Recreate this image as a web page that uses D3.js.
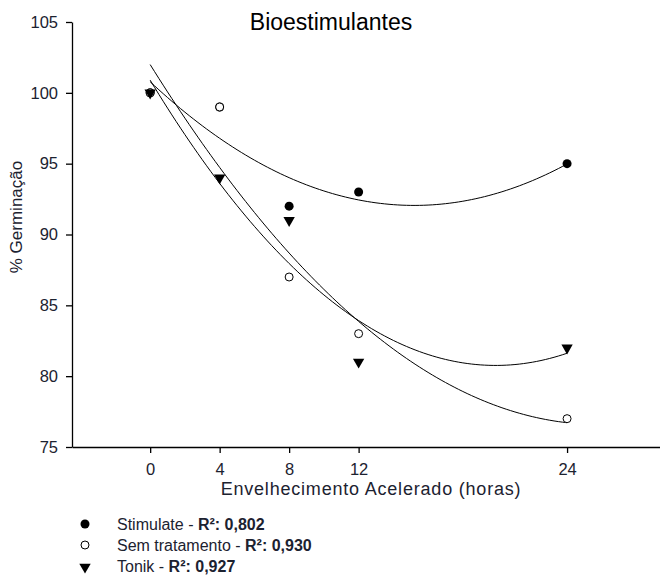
<!DOCTYPE html>
<html>
<head>
<meta charset="utf-8">
<script src="https://cdn.jsdelivr.net/npm/d3@7"></script>
<style>
body { margin: 0; background: #fff; }
text { font-family: "Liberation Sans", Arial, sans-serif; }
</style>
</head>
<body>
<script>
var width = 660;
var height = 575;

// hours of accelerated ageing and % germination
var hours = [0, 4, 8, 12, 24];
var stimulate = [100, 99, 92, 93, 95];
var semTratamento = [100, 99, 87, 83, 77];
var tonik = [100, 94, 91, 81, 82];
var xTicks = [0, 4, 8, 12, 24];
var yTicks = [75, 80, 85, 90, 95, 100, 105];
var legendNames = ["Stimulate - ", "Sem tratamento - ", "Tonik - "];
var legendR2 = ["0,802", "0,930", "0,927"];

var x = d3.scaleLinear().domain([-4.5, 29.35]).range([72, 660]);
var y = d3.scaleLinear().domain([75, 105]).range([447, 22]);

var svg = d3.select("body")
            .append("svg")
            .attr("width", width)
            .attr("height", height);

// quadratic least squares fit, returns [a, b, c] for a + b*x + c*x^2
function quadFit(xs, ys) {
    var s = [0, 0, 0, 0, 0], t = [0, 0, 0];
    for (var i = 0; i < xs.length; i++) {
        for (var k = 0; k < 5; k++) s[k] += Math.pow(xs[i], k);
        for (var k = 0; k < 3; k++) t[k] += ys[i] * Math.pow(xs[i], k);
    }
    var m = [[s[0], s[1], s[2], t[0]], [s[1], s[2], s[3], t[1]], [s[2], s[3], s[4], t[2]]];
    for (var c = 0; c < 3; c++) {
        for (var r = c + 1; r < 3; r++) {
            var f = m[r][c] / m[c][c];
            for (var k = c; k < 4; k++) m[r][k] -= f * m[c][k];
        }
    }
    var sol = [0, 0, 0];
    for (var r = 2; r >= 0; r--) {
        var v = m[r][3];
        for (var k = r + 1; k < 3; k++) v -= m[r][k] * sol[k];
        sol[r] = v / m[r][r];
    }
    return sol;
}

var series = [stimulate, semTratamento, tonik];
var line = d3.line()
    .x(function(d) { return x(d[0]); })
    .y(function(d) { return y(d[1]); });

series.forEach(function(vals) {
    var p = quadFit(hours, vals);
    var pts = d3.range(0, 24.001, 0.25).map(function(h) {
        return [h, p[0] + p[1] * h + p[2] * h * h];
    });
    svg.append("path")
        .attr("d", line(pts))
        .attr("fill", "none")
        .attr("stroke", "#000")
        .attr("stroke-width", 1);
});

// axes
var yAxis = svg.append("g")
    .attr("transform", "translate(72,0)")
    .call(d3.axisLeft(y).tickValues(yTicks).tickSize(6).tickSizeOuter(0));
var xAxis = svg.append("g")
    .attr("transform", "translate(0,447)")
    .call(d3.axisBottom(x).tickValues(xTicks).tickSize(6).tickSizeOuter(0));
[yAxis, xAxis].forEach(function(g) {
    g.selectAll("path").attr("stroke", "#000").attr("stroke-width", 1.3);
    g.selectAll("line").attr("stroke", "#000").attr("stroke-width", 1.3);
    g.selectAll("text")
        .style("font-family", "'Liberation Sans', Arial, sans-serif")
        .style("font-size", "16.5px")
        .attr("fill", "#1c2230");
});
yAxis.selectAll("text").attr("x", -14);
xAxis.selectAll("text").attr("y", 16);

// markers
var tri = d3.symbol().type(d3.symbolTriangle).size(56);
svg.selectAll(".stim")
    .data(hours)
    .enter()
    .append("circle")
    .attr("cx", function(d) { return x(d); })
    .attr("cy", function(d, i) { return y(stimulate[i]); })
    .attr("r", 4.5)
    .attr("fill", "#000");
svg.selectAll(".sem")
    .data(hours)
    .enter()
    .append("circle")
    .attr("cx", function(d) { return x(d); })
    .attr("cy", function(d, i) { return y(semTratamento[i]); })
    .attr("r", 4)
    .attr("fill", "#fff")
    .attr("stroke", "#000")
    .attr("stroke-width", 1);
svg.selectAll(".ton")
    .data(hours)
    .enter()
    .append("path")
    .attr("d", tri)
    .attr("transform", function(d, i) { return "translate(" + x(d) + "," + y(tonik[i]) + ") rotate(180)"; })
    .attr("fill", "#000");

// titles
svg.append("text")
    .attr("x", 331)
    .attr("y", 30)
    .attr("text-anchor", "middle")
    .style("font-size", "23px")
    .attr("fill", "#000")
    .text("Bioestimulantes");
svg.append("text")
    .attr("transform", "translate(22,217) rotate(-90)")
    .attr("text-anchor", "middle")
    .style("font-size", "17px")
    .attr("fill", "#1c2230")
    .text("% Germinação");
svg.append("text")
    .attr("x", 371)
    .attr("y", 495)
    .attr("text-anchor", "middle")
    .style("font-size", "18px")
    .style("letter-spacing", "0.8px")
    .attr("fill", "#1c2230")
    .text("Envelhecimento Acelerado (horas)");

// legend
var legend = svg.selectAll("g.legend")
    .data(legendNames)
    .enter()
    .append("g")
    .attr("class", "legend")
    .attr("transform", function(d, i) { return "translate(0," + (524 + i * 21) + ")"; });
legend.each(function(d, i) {
    var g = d3.select(this);
    if (i == 0) g.append("circle").attr("cx", 85).attr("r", 4.5).attr("fill", "#000");
    if (i == 1) g.append("circle").attr("cx", 85).attr("r", 4).attr("fill", "#fff").attr("stroke", "#000");
    if (i == 2) g.append("path").attr("d", tri).attr("transform", "translate(85,1) rotate(180)").attr("fill", "#000");
    var t = g.append("text")
        .attr("x", 117)
        .attr("y", 5.5)
        .style("font-size", "16px")
        .attr("fill", "#1c2230");
    t.append("tspan").text(d);
    t.append("tspan").style("font-weight", "bold").text("R²: " + legendR2[i]);
});
</script>
</body>
</html>
